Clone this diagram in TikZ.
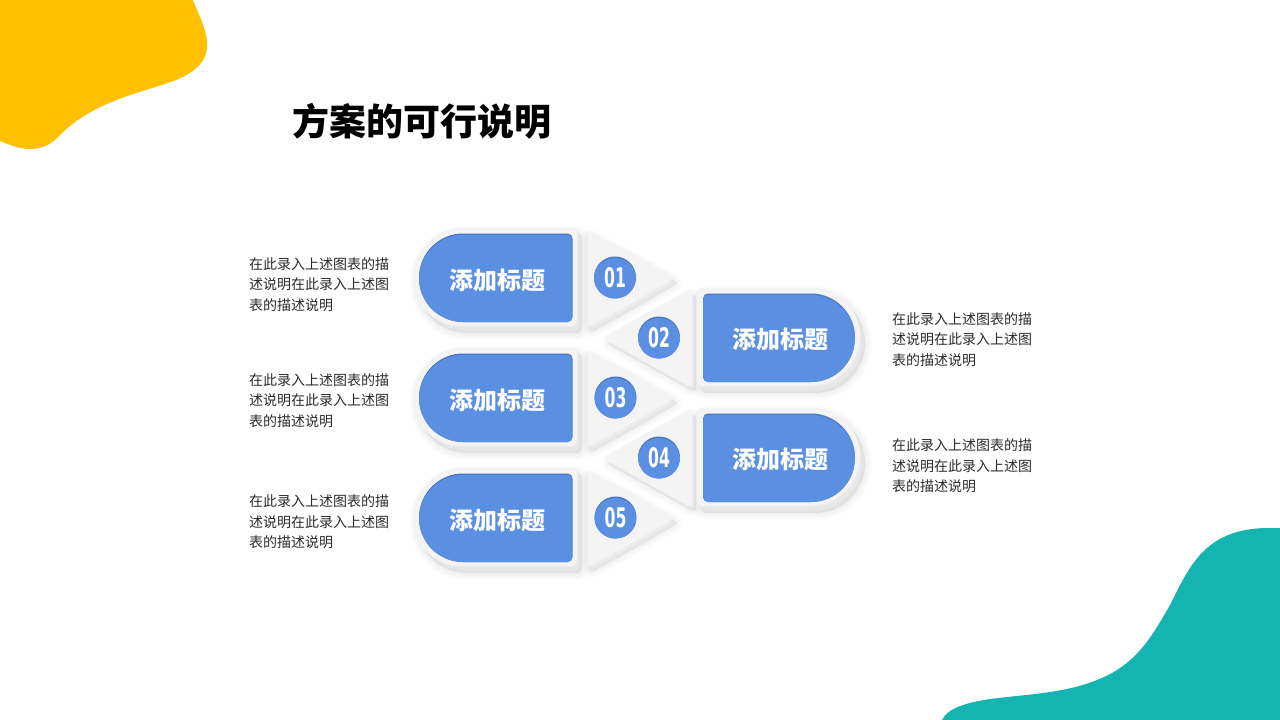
\documentclass[tikz,border=0pt]{standalone}
\usepackage{fontspec}
\newfontfamily\cjk{Noto Sans CJK SC}
\newfontfamily\numfont{DejaVu Sans}
\definecolor{sunny}{HTML}{FFC000}
\definecolor{teal2}{HTML}{14B5B0}
\definecolor{cardblue}{HTML}{5A8FE2}
\definecolor{edgeblue}{HTML}{4677C4}
\definecolor{plate}{HTML}{F4F4F4}
\definecolor{plateedge}{HTML}{E9E9E9}
\definecolor{bodytext}{HTML}{2B2B2B}
% #1 xL, #2 xR, #3 yT, #4 yB, #5 left radius, #6 right radius
\newcommand{\pillpath}[6]{
  ({#1+#5},#3) -- ({#2-#6},#3)
  .. controls ({#2-.45*#6},#3) and (#2,{#3+.45*#6}) .. (#2,{#3+#6})
  -- (#2,{#4-#6})
  .. controls (#2,{#4-.45*#6}) and ({#2-.45*#6},#4) .. ({#2-#6},#4)
  -- ({#1+#5},#4)
  .. controls ({#1+.45*#5},#4) and (#1,{#4-.45*#5}) .. (#1,{#4-#5})
  -- (#1,{#3+#5})
  .. controls (#1,{#3+.45*#5}) and ({#1+.45*#5},#3) .. ({#1+#5},#3) -- cycle}
\tikzset{
  castlayer/.style={xshift=4pt,yshift=-5pt,fill=black,draw=black,fill opacity=.007,draw opacity=.007,line width=#1,line join=round},
  badgecircle/.style={circle,minimum size=42pt,inner sep=0pt,fill=edgeblue,
    path picture={\fill[cardblue] ([yshift=-1.5pt]path picture bounding box.center) circle (21pt);}},
  badgenum/.style={font=\numfont\bfseries\fontsize{27}{27}\selectfont,text=white,xscale=.58,inner sep=0pt},
  cardlabel/.style={font=\cjk\bfseries\fontsize{24}{24}\selectfont,text=white,inner sep=0pt},
  desc/.style={font=\cjk\fontsize{14}{20.5}\selectfont,text=bodytext,align=left,anchor=west,inner sep=0pt},
  headline/.style={font=\cjk\bfseries\fontsize{37}{37}\selectfont,text=black,inner sep=0pt}
}
\newcommand{\cardpill}[6]{
  \foreach \w in {1,3,...,15}{
    \path[castlayer=\w pt] \pillpath{#1}{#2}{#3}{#4}{#5}{#6};
  }
  \path[fill=plateedge] \pillpath{#1}{#2}{#3}{#4}{#5}{#6};
  \begin{scope}
    \clip \pillpath{#1}{#2}{#3}{#4}{#5}{#6};
    \path[fill=plate,yshift=2pt,xshift=-1pt] \pillpath{#1}{#2}{#3}{#4}{#5}{#6};
  \end{scope}
}
\newcommand{\bluefill}[6]{
  \path[fill=edgeblue] \pillpath{#1}{#2}{#3}{#4}{#5}{#6};
  \begin{scope}
    \clip \pillpath{#1}{#2}{#3}{#4}{#5}{#6};
    \path[fill=cardblue,yshift=-1.4pt] \pillpath{#1}{#2}{#3}{#4}{#5}{#6};
  \end{scope}
}
\newcommand{\platewedge}[3]{
  \foreach \w in {1,3,...,13}{
    \path[castlayer=\w pt,rounded corners=5pt] #1 -- #2 -- #3 -- cycle;
  }
  \path[fill=plate,rounded corners=5pt] #1 -- #2 -- #3 -- cycle;
}
\begin{document}
\begin{tikzpicture}[x=1pt,y=-1pt]
\useasboundingbox (0,0) rectangle (1280,720);
\fill[white] (0,0) rectangle (1280,720);
% corner blobs
\fill[sunny] (0,0) -- (193,0) .. controls (200,18) and (208,32) .. (207,47) .. controls (206,65) and (190,76) .. (165,84) .. controls (130,95) and (90,105) .. (60,135) .. controls (50,146) and (40,149) .. (30,149) .. controls (18,149) and (8,144) .. (0,141) -- cycle;
\fill[teal2] (1280,720) -- (942,720) .. controls (948,708) and (965,703) .. (990,699) .. controls (1030,694) and (1065,693) .. (1097,680) .. controls (1135,665) and (1150,640) .. (1170,605) .. controls (1190,565) and (1205,530) .. (1265,528) -- (1280,528) -- cycle;
% title
\node[headline] (title) at (422,121) {方案的可行说明};
% wedges
\platewedge{(585,229)}{(675,278)}{(585,329)}
\platewedge{(692,288)}{(602,338)}{(692,388)}
\platewedge{(585,349)}{(675,398)}{(585,449)}
\platewedge{(692,408)}{(602,458)}{(692,508)}
\platewedge{(585,469)}{(675,518)}{(585,569)}
% cards
\cardpill{413}{578}{228}{328}{50}{6}
\bluefill{419}{572.5}{233.5}{322}{44}{5}
\cardpill{413}{578}{348}{448}{50}{6}
\bluefill{419}{572.5}{353.5}{442}{44}{5}
\cardpill{413}{578}{468}{568}{50}{6}
\bluefill{419}{572.5}{473.5}{562}{44}{5}
\cardpill{697}{861}{288}{388}{6}{50}
\bluefill{703}{855}{293.5}{382}{5}{44}
\cardpill{697}{861}{408}{508}{6}{50}
\bluefill{703}{855}{413.5}{502}{5}{44}
% card labels
\node[cardlabel] (c1) at (497,280) {添加标题};
\node[cardlabel] (c3) at (497,400) {添加标题};
\node[cardlabel] (c5) at (497,520) {添加标题};
\node[cardlabel] (c2) at (780.5,339) {添加标题};
\node[cardlabel] (c4) at (780.5,459) {添加标题};
% badges
\node[badgecircle] (b1) at (615,277.5) {};
\node[badgecircle] (b2) at (659,337.5) {};
\node[badgecircle] (b3) at (615.5,397.5) {};
\node[badgecircle] (b4) at (659,457.5) {};
\node[badgecircle] (b5) at (615.5,517.5) {};
\node[badgenum] (n1) at (b1) {01};
\node[badgenum] (n2) at (b2) {02};
\node[badgenum] (n3) at (b3) {03};
\node[badgenum] (n4) at (b4) {04};
\node[badgenum] (n5) at (b5) {05};
% descriptions
\node[desc] (d1) at (249,284.5) {在此录入上述图表的描\\述说明在此录入上述图\\表的描述说明};
\node[desc] (d3) at (249,400.5) {在此录入上述图表的描\\述说明在此录入上述图\\表的描述说明};
\node[desc] (d5) at (249,522) {在此录入上述图表的描\\述说明在此录入上述图\\表的描述说明};
\node[desc] (d2) at (892,339.5) {在此录入上述图表的描\\述说明在此录入上述图\\表的描述说明};
\node[desc] (d4) at (892,466) {在此录入上述图表的描\\述说明在此录入上述图\\表的描述说明};
\end{tikzpicture}
\end{document}
